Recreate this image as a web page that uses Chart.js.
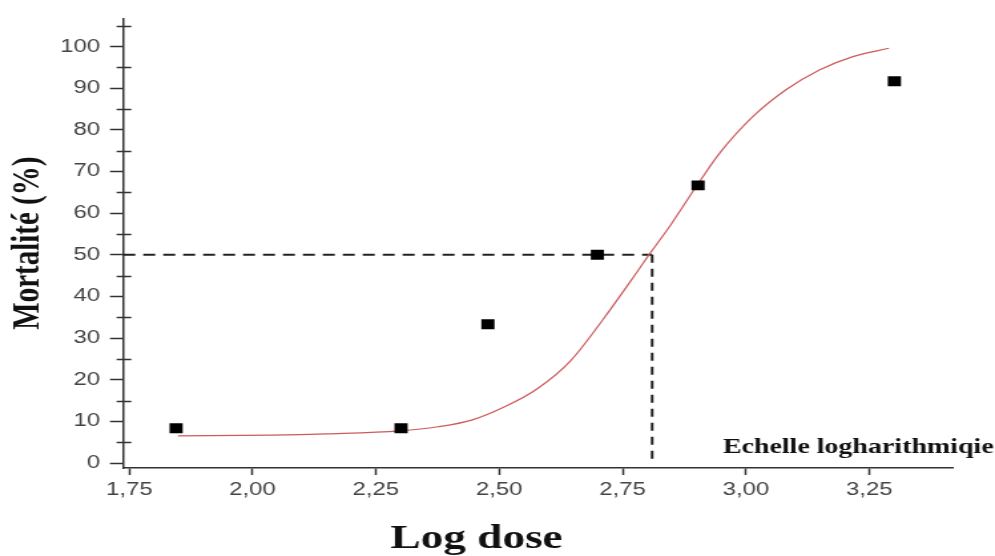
<!DOCTYPE html>
<html>
<head>
<meta charset="utf-8">
<title>Mortalité / Log dose</title>
<script src="https://cdn.jsdelivr.net/npm/chart.js@4/dist/chart.umd.min.js"></script>
<style>
  html, body { margin: 0; padding: 0; background: #fff; overflow: hidden; }
  /* figure is drawn narrow and stretched sideways */
  #mortChart { display: block; transform-origin: 0 0; transform: scaleX(1.3302); }
</style>
</head>
<body>
<canvas id="mortChart" width="748" height="556"></canvas>
<script>
// observed mortality per log dose
const doseLog = [1.845, 2.301, 2.477, 2.699, 2.903, 3.301];
const mortality = [8.33, 8.33, 33.33, 50, 66.67, 91.67];

// fitted sigmoid curve
const fitLog = [1.849, 2.040, 2.150, 2.299, 2.376, 2.444, 2.511, 2.578, 2.645, 2.713, 2.780, 2.806, 2.847, 2.901, 2.948, 3.015, 3.082, 3.149, 3.217, 3.290];
const fitMortality = [6.5, 6.7, 7.0, 7.7, 8.7, 10.3, 13.5, 17.9, 24.6, 34.9, 46.0, 50.4, 57.1, 66.7, 74.6, 83.3, 89.7, 94.4, 97.6, 99.6];

// LD50 read-off
const ld50Log = 2.81;
const ld50 = 50;

// axes
const xMin = 1.738, xMax = 3.42;
const yMin = -1.2, yMax = 106.8;
const xTickValues = [1.75, 2.00, 2.25, 2.50, 2.75, 3.00, 3.25];
const xTickLabels = ['1,75', '2,00', '2,25', '2,50', '2,75', '3,00', '3,25'];
const yTickValues = [0, 10, 20, 30, 40, 50, 60, 70, 80, 90, 100];
const yMinorTicks = [5, 15, 25, 35, 45, 55, 65, 75, 85, 95, 105];

const axisColor = '#333';

// minor ticks crossing the y axis + scale note above the x axis
const extras = {
  id: 'extras',
  afterDraw(chart) {
    const ctx = chart.ctx;
    const y = chart.scales.y;
    const x0 = chart.chartArea.left;
    ctx.save();
    ctx.strokeStyle = axisColor;
    ctx.lineWidth = 1.5;
    ctx.beginPath();
    yMinorTicks.forEach(v => {
      const py = Math.round(y.getPixelForValue(v)) + 0.5;
      ctx.moveTo(x0 - 5, py);
      ctx.lineTo(x0 + 6, py);
    });
    ctx.stroke();

    ctx.font = 'bold 21px "Liberation Serif", serif';
    ctx.fillStyle = '#111';
    ctx.textAlign = 'right';
    ctx.textBaseline = 'alphabetic';
    ctx.fillText('Echelle logharithmiqie', chart.width - 1, y.getPixelForValue(0) - 10);
    ctx.restore();
  }
};

const ctx = document.getElementById('mortChart').getContext('2d');
const mortChart = new Chart(ctx, {
  type: 'scatter',
  data: {
    datasets: [
      {
        label: 'Mortalité observée',
        data: doseLog.map((x, i) => ({ x: x, y: mortality[i] })),
        pointStyle: 'rect',
        pointRadius: 7,
        backgroundColor: '#000',
        borderColor: '#000',
        borderWidth: 0,
        showLine: false
      },
      {
        label: 'Ajustement',
        data: fitLog.map((x, i) => ({ x: x, y: fitMortality[i] })),
        showLine: true,
        borderColor: '#cc5a5a',
        borderWidth: 1.2,
        pointRadius: 0,
        cubicInterpolationMode: 'monotone',
        fill: false
      },
      {
        label: 'DL50 (horizontal)',
        data: [{ x: xMin, y: ld50 }, { x: ld50Log, y: ld50 }],
        showLine: true,
        borderColor: '#222',
        borderWidth: 2,
        borderDash: [9, 6],
        pointRadius: 0
      },
      {
        label: 'DL50 (vertical)',
        data: [{ x: ld50Log, y: ld50 }, { x: ld50Log, y: 0 }],
        showLine: true,
        borderColor: '#222',
        borderWidth: 2,
        borderDash: [8, 6],
        pointRadius: 0
      }
    ]
  },
  options: {
    responsive: false,
    animation: false,
    devicePixelRatio: 1,
    layout: {
      padding: { top: 15, right: 31.5, bottom: 0, left: 0 }
    },
    plugins: {
      legend: { display: false },
      tooltip: { enabled: false },
      title: {
        display: true,
        position: 'bottom',
        text: 'Log dose',
        color: '#111',
        font: { family: '"Liberation Serif", serif', size: 34, weight: 'bold', lineHeight: 1 },
        padding: 0
      }
    },
    scales: {
      x: {
        type: 'linear',
        min: xMin,
        max: xMax,
        afterBuildTicks: s => { s.ticks = xTickValues.map(v => ({ value: v })); },
        afterFit: s => { s.height = 54; },
        border: { color: axisColor, width: 1.5 },
        grid: { drawOnChartArea: false, drawTicks: true, tickLength: 7, tickColor: axisColor, tickWidth: 1.5 },
        ticks: {
          padding: 4,
          color: '#444',
          font: { family: '"Liberation Sans", Arial, sans-serif', size: 18 },
          callback: (v, i) => xTickLabels[i]
        }
      },
      y: {
        type: 'linear',
        min: yMin,
        max: yMax,
        afterBuildTicks: s => { s.ticks = yTickValues.map(v => ({ value: v })); },
        afterFit: s => { s.width = 92.7; },
        border: { color: axisColor, width: 1.5 },
        grid: { drawOnChartArea: false, drawTicks: true, tickLength: 10, tickColor: axisColor, tickWidth: 1.5 },
        ticks: {
          padding: 7.5,
          color: '#444',
          font: { family: '"Liberation Sans", Arial, sans-serif', size: 18 },
          callback: v => String(v)
        },
        title: {
          display: true,
          text: 'Mortalité (%)',
          color: '#111',
          font: { family: '"Liberation Serif", serif', size: 29, weight: 'bold', lineHeight: 1.2 },
          padding: { top: 4, bottom: 0 }
        }
      }
    }
  },
  plugins: [extras]
});
</script>
</body>
</html>
